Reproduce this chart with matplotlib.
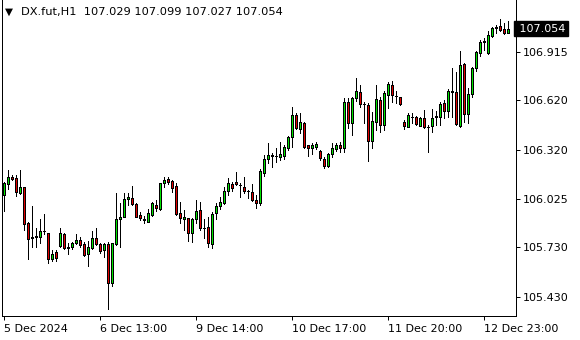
import numpy as np
import matplotlib
matplotlib.use('Agg')
import matplotlib.pyplot as plt
import matplotlib.transforms as mtransforms

plt.rcParams.update({'font.family': 'DejaVu Sans', 'font.size': 8})

symbol = 'DX.fut,H1'
last_ohlc = [107.029, 107.099, 107.027, 107.054]

opens = [106.047, 106.111, 106.154, 106.148, 106.060, 106.093, 105.878, 105.790, 105.796, 105.794,
         105.828, 105.814, 105.660, 105.699, 105.739, 105.808, 105.729, 105.729, 105.754, 105.772,
         105.748, 105.691, 105.727, 105.784, 105.748, 105.713, 105.748, 105.515, 105.748, 105.899,
         105.915, 106.020, 106.026, 105.990, 105.925, 105.899, 105.885, 105.925, 105.986, 105.962,
         106.121, 106.141, 106.131, 106.101, 105.935, 105.899, 105.905, 105.814, 105.901, 105.955,
         105.848, 105.851, 105.749, 105.935, 105.982, 105.996, 106.072, 106.111, 106.123, 106.109,
         106.097, 106.072, 106.066, 106.016, 105.996, 106.181, 106.263, 106.285, 106.283, 106.278,
         106.283, 106.329, 106.396, 106.531, 106.448, 106.481, 106.349, 106.329, 106.339, 106.313,
         106.264, 106.224, 106.293, 106.327, 106.348, 106.329, 106.608, 106.481, 106.632, 106.669,
         106.596, 106.592, 106.375, 106.491, 106.622, 106.471, 106.652, 106.713, 106.646, 106.638,
         106.487, 106.460, 106.521, 106.517, 106.466, 106.511, 106.457, 106.466, 106.517, 106.517,
         106.602, 106.557, 106.672, 106.669, 106.466, 106.840, 106.535, 106.657, 106.814, 106.905,
         106.972, 106.905, 107.010, 107.063, 107.070, 107.052, 107.029]

highs = [106.127, 106.198, 106.169, 106.168, 106.198, 106.097, 105.885, 105.980, 105.845, 105.899,
         105.929, 105.818, 105.713, 105.713, 105.848, 105.814, 105.754, 105.763, 105.810, 105.794,
         105.763, 105.769, 105.828, 105.845, 105.754, 105.757, 105.762, 105.757, 106.057, 105.996,
         106.057, 106.060, 106.101, 105.996, 105.945, 105.919, 105.960, 106.006, 106.016, 106.121,
         106.157, 106.157, 106.137, 106.117, 106.006, 105.955, 105.909, 105.909, 106.016, 106.006,
         105.899, 105.915, 105.945, 105.996, 106.032, 106.093, 106.148, 106.127, 106.184, 106.121,
         106.154, 106.077, 106.113, 106.047, 106.202, 106.289, 106.360, 106.299, 106.329, 106.369,
         106.349, 106.404, 106.581, 106.541, 106.545, 106.491, 106.352, 106.360, 106.369, 106.319,
         106.275, 106.299, 106.360, 106.363, 106.369, 106.632, 106.632, 106.642, 106.754, 106.713,
         106.612, 106.602, 106.551, 106.713, 106.642, 106.678, 106.733, 106.737, 106.677, 106.642,
         106.501, 106.545, 106.541, 106.525, 106.521, 106.561, 106.471, 106.567, 106.555, 106.612,
         106.622, 106.689, 106.814, 106.794, 106.919, 106.848, 106.693, 106.824, 106.921, 106.986,
         106.996, 107.040, 107.066, 107.076, 107.111, 107.087, 107.099]

lows = [105.951, 106.081, 106.137, 106.042, 106.051, 105.834, 105.660, 105.729, 105.729, 105.754,
        105.810, 105.636, 105.648, 105.648, 105.729, 105.717, 105.687, 105.719, 105.749, 105.729,
        105.677, 105.618, 105.717, 105.743, 105.693, 105.672, 105.357, 105.495, 105.743, 105.729,
        105.910, 105.986, 105.986, 105.911, 105.895, 105.878, 105.882, 105.919, 105.951, 105.955,
        106.093, 106.113, 106.066, 105.925, 105.875, 105.834, 105.769, 105.763, 105.875, 105.834,
        105.788, 105.733, 105.727, 105.899, 105.962, 105.990, 106.047, 106.071, 106.107, 106.032,
        106.057, 106.026, 106.010, 105.969, 105.986, 106.161, 106.238, 106.214, 106.248, 106.258,
        106.263, 106.319, 106.339, 106.444, 106.424, 106.333, 106.283, 106.295, 106.323, 106.258,
        106.208, 106.214, 106.275, 106.313, 106.309, 106.309, 106.451, 106.410, 106.618, 106.581,
        106.481, 106.254, 106.329, 106.440, 106.430, 106.440, 106.574, 106.612, 106.602, 106.592,
        106.444, 106.457, 106.481, 106.471, 106.464, 106.451, 106.309, 106.426, 106.471, 106.471,
        106.511, 106.517, 106.521, 106.471, 106.460, 106.491, 106.484, 106.642, 106.798, 106.891,
        106.925, 106.901, 107.002, 107.026, 107.042, 107.022, 107.027]

closes = [106.117, 106.154, 106.141, 106.066, 106.093, 105.869, 105.782, 105.784, 105.794, 105.828,
          105.830, 105.657, 105.687, 105.666, 105.814, 105.727, 105.723, 105.754, 105.774, 105.742,
          105.683, 105.729, 105.784, 105.751, 105.709, 105.748, 105.515, 105.754, 105.899, 105.915,
          106.020, 106.032, 105.992, 105.915, 105.909, 105.897, 105.939, 105.996, 105.969, 106.117,
          106.137, 106.127, 106.091, 105.929, 105.905, 105.915, 105.814, 105.901, 105.949, 105.848,
          105.846, 105.754, 105.929, 105.982, 106.002, 106.071, 106.117, 106.087, 106.111, 106.107,
          106.072, 106.070, 106.016, 106.000, 106.194, 106.263, 106.289, 106.286, 106.281, 106.293,
          106.335, 106.396, 106.531, 106.454, 106.487, 106.339, 106.333, 106.349, 106.355, 106.269,
          106.224, 106.293, 106.329, 106.348, 106.333, 106.612, 106.481, 106.632, 106.677, 106.596,
          106.595, 106.374, 106.495, 106.626, 106.471, 106.663, 106.719, 106.652, 106.645, 106.598,
          106.466, 106.531, 106.520, 106.475, 106.511, 106.457, 106.456, 106.511, 106.522, 106.596,
          106.555, 106.677, 106.674, 106.475, 106.834, 106.535, 106.657, 106.814, 106.911, 106.972,
          106.981, 107.016, 107.057, 107.061, 107.046, 107.026, 107.054]

time_tick_bars = [0, 24, 48, 72, 96, 120]
time_tick_labels = ['5 Dec 2024', '6 Dec 13:00', '9 Dec 14:00',
                    '10 Dec 17:00', '11 Dec 20:00', '12 Dec 23:00']
price_ticks = [105.430, 105.730, 106.025, 106.320, 106.620, 106.915]

bull_color = '#00e400'
bear_color = '#e00000'
px = 0.72  # one pixel in points at dpi 100

o = np.array(opens)
h = np.array(highs)
l = np.array(lows)
c = np.array(closes)
x = np.arange(len(o))

fig = plt.figure(figsize=(5.8, 3.4), dpi=100)
ax = fig.add_axes([2 / 580, 24 / 340, 514 / 580, 316 / 340])

# wicks then bodies
ax.vlines(x, l, h, color='black', linewidth=px, zorder=2, antialiased=False)
body_colors = [bull_color if cc > oo else bear_color for oo, cc in zip(o, c)]
ax.bar(x, np.abs(c - o), bottom=np.minimum(o, c), width=0.5, color=body_colors,
       edgecolor='black', linewidth=px, zorder=3, antialiased=False)

ax.set_xlim(-0.375, 128.1)
ax.set_ylim(105.313, 107.228)

ax.set_xticks(time_tick_bars)
ax.set_xticklabels(time_tick_labels, ha='left')
ax.yaxis.tick_right()
ax.set_yticks(price_ticks)
ax.set_yticklabels([f'{p:.3f}' for p in price_ticks])
ax.tick_params(axis='x', direction='out', length=3, width=px, pad=2.5)
ax.tick_params(axis='y', direction='out', length=3, width=px, pad=1.8)

for side in ['left', 'right', 'bottom']:
    ax.spines[side].set_linewidth(px)
ax.spines['top'].set_visible(False)

# current price tag
trans = mtransforms.blended_transform_factory(ax.transAxes, ax.transData)
ax.text(1.0, last_ohlc[3], f' {last_ohlc[3]:.3f}', transform=trans, ha='left', va='center',
        color='white', bbox=dict(boxstyle='square,pad=0.2', fc='black', ec='black'),
        clip_on=False)

# header
fig.text(5 / 580, 1 - 12 / 340, '▼', fontsize=7.5, va='center', ha='left')
header = f'{symbol}  ' + ' '.join(f'{v:.3f}' for v in last_ohlc)
fig.text(21 / 580, 1 - 12 / 340, header, va='center', ha='left', fontsize=8.2)

fig.savefig('out.png', dpi=100)
